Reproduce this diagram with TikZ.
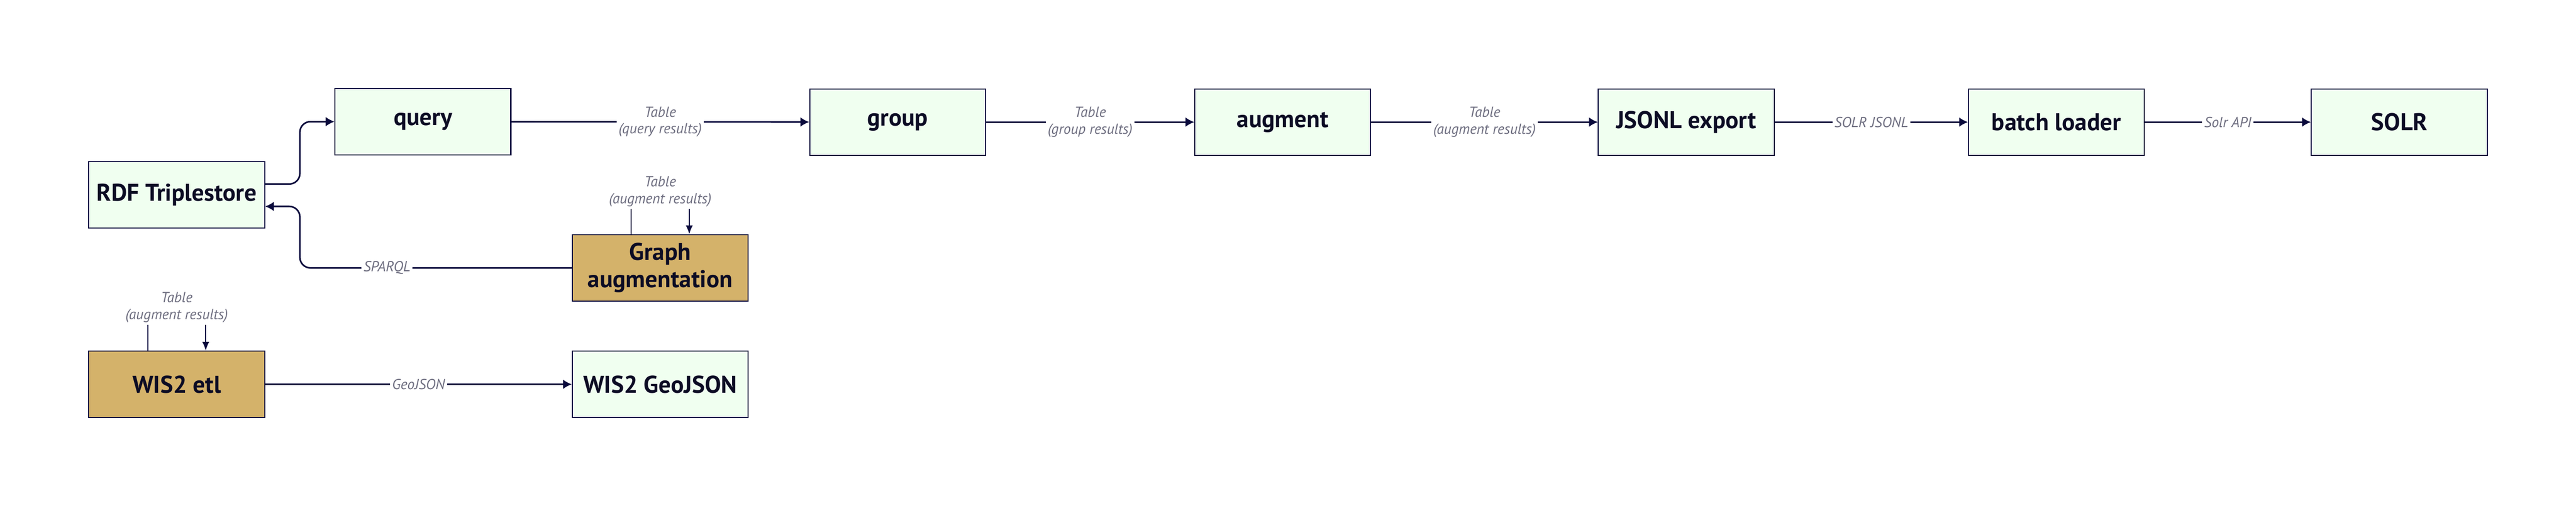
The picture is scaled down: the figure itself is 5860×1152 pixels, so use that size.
\documentclass[tikz,border=0pt]{standalone}
\usepackage{fontspec}
\setmainfont{PT Sans}
\usetikzlibrary{arrows.meta,calc}
\definecolor{boxfill}{HTML}{F0FFF0}
\definecolor{boxline}{HTML}{0A0A3C}
\definecolor{gold}{HTML}{D4B26A}
\definecolor{lblgray}{HTML}{6E6E80}
\definecolor{txt}{HTML}{0C0C24}
\tikzset{
  stage/.style={draw=boxline, fill=boxfill, line width=0.6pt, minimum width=100pt, minimum height=37.75pt, inner sep=0pt, align=center, text=txt, font=\fontsize{13.8}{15.5}\selectfont\bfseries},
  proc/.style={stage, fill=gold},
  conn/.style={draw=boxline, line width=0.9pt, -{Latex[length=5pt,width=5.5pt]}},
  thinline/.style={draw=boxline, line width=0.6pt},
  thinarrow/.style={draw=boxline, line width=0.6pt, -{Latex[length=5pt,width=4pt]}},
  lbl/.style={fill=white, text=lblgray, inner sep=1.2pt, align=center, font=\fontsize{8.3}{9.5}\selectfont\itshape}
}
\begin{document}
\begin{tikzpicture}[x=0.25pt,y=-0.25pt]
\useasboundingbox (0,0) rectangle (5860,1152);
\node[stage] (rdf) at (402,444) {RDF Triplestore};
\node[stage] (query) at (962,277) {query};
\node[stage] (group) at (2042,278) {group};
\node[stage] (augment) at (2918,278) {augment};
\node[stage] (jsonl) at (3836,278) {JSONL export};
\node[stage] (batch) at (4678,278) {batch loader};
\node[stage] (solr) at (5458,278) {SOLR};
\node[proc] (gaug) at (1502,610) {Graph\\augmentation};
\node[proc] (wetl) at (402,875) {WIS2 etl};
\node[stage] (wgeo) at (1502,875) {WIS2 GeoJSON};

\draw[conn] (query) -- node[lbl]{Table\\(query results)} (group);
\draw[conn] (group) -- node[lbl]{Table\\(group results)} (augment);
\draw[conn] (augment) -- node[lbl]{Table\\(augment results)} (jsonl);
\draw[conn] (jsonl) -- node[lbl]{SOLR JSONL} (batch);
\draw[conn] (batch) -- node[lbl]{Solr API} (solr);
\draw[conn] (wetl) -- node[lbl]{GeoJSON} (wgeo);

\draw[conn, rounded corners=6pt] ($(rdf.east)+(0,-25)$) -- ++(79,0) |- (query.west);
\draw[conn, rounded corners=6pt] (gaug.west) -| node[lbl, pos=0.34]{SPARQL} ($(rdf.east)+(79,26)$) -- ($(rdf.east)+(0,26)$);

\node[lbl] (l1) at (1502,436) {Table\\(augment results)};
\draw[thinline] ($(gaug.north)+(-66,0)$) -- ($(l1.south)+(-66,0)$);
\draw[thinarrow] ($(l1.south)+(66,0)$) -- ($(gaug.north)+(66,0)$);

\node[lbl] (l2) at (402,700) {Table\\(augment results)};
\draw[thinline] ($(wetl.north)+(-66,0)$) -- ($(l2.south)+(-66,0)$);
\draw[thinarrow] ($(l2.south)+(66,0)$) -- ($(wetl.north)+(66,0)$);
\end{tikzpicture}
\end{document}
